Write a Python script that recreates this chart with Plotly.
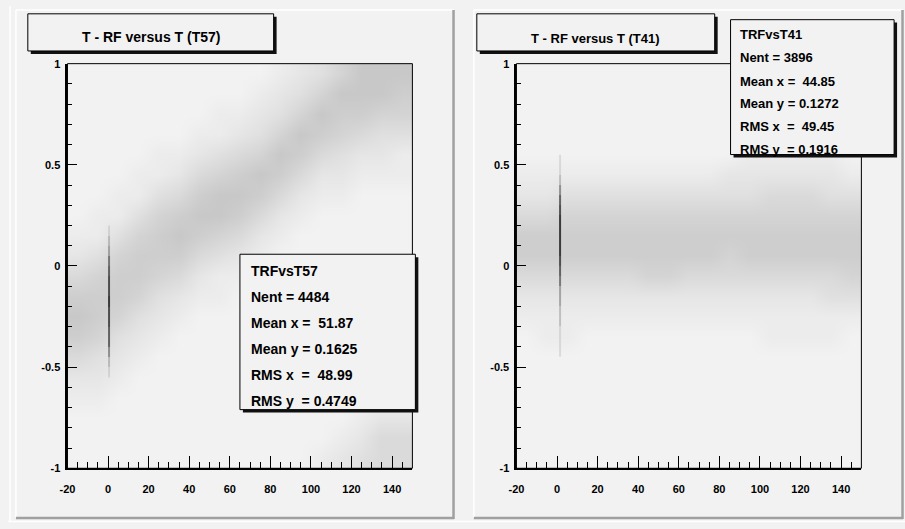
import plotly.graph_objects as go

W, H = 905, 529
BG = "#f2f2f2"

# ---------------- data ----------------
x_bin_centers = [-15, -5, 5, 15, 25, 35, 45, 55, 65, 75, 85, 95, 105, 115, 125, 135, 145]
y_bin_centers = [0.95, 0.85, 0.75, 0.65, 0.55, 0.45, 0.35, 0.25, 0.15, 0.05,
                 -0.05, -0.15, -0.25, -0.35, -0.45, -0.55, -0.65, -0.75, -0.85, -0.95]

# T57: relative point density per x column (top -> bottom in y)
t57_density_by_x = [
    [0, 0, 0, 0, 0, 0, 0, 0, 1, 2, 4, 6, 7, 6, 4, 2, 1, 0, 0, 0],
    [0, 0, 0, 0, 0, 0, 0, 1, 1, 3, 5, 6, 6, 5, 3, 2, 1, 0, 0, 0],
    [0, 0, 0, 0, 0, 0, 1, 1, 3, 5, 6, 6, 5, 3, 2, 1, 0, 0, 0, 0],
    [0, 0, 0, 0, 0, 1, 1, 3, 5, 6, 6, 5, 3, 2, 1, 0, 0, 0, 0, 0],
    [0, 0, 0, 0, 1, 1, 3, 5, 6, 6, 5, 3, 2, 1, 0, 0, 0, 0, 0, 0],
    [0, 0, 0, 0, 1, 2, 4, 6, 7, 6, 4, 2, 1, 0, 0, 0, 0, 0, 0, 0],
    [0, 0, 0, 1, 2, 4, 6, 7, 6, 4, 2, 1, 0, 0, 0, 0, 0, 0, 0, 0],
    [0, 0, 1, 1, 3, 5, 7, 7, 5, 3, 1, 1, 0, 0, 0, 0, 0, 0, 0, 0],
    [0, 0, 1, 2, 4, 6, 7, 6, 4, 2, 1, 0, 0, 0, 0, 0, 0, 0, 0, 0],
    [0, 1, 2, 3, 5, 7, 6, 4, 2, 1, 0, 0, 0, 0, 0, 0, 0, 0, 0, 0],
    [1, 2, 3, 5, 7, 6, 4, 2, 1, 0, 0, 0, 0, 0, 0, 0, 0, 0, 0, 0],
    [2, 3, 5, 7, 6, 4, 2, 1, 0, 0, 0, 0, 0, 0, 0, 0, 0, 0, 0, 0],
    [3, 5, 7, 6, 4, 2, 1, 0, 0, 0, 0, 0, 0, 0, 0, 0, 0, 0, 0, 1],
    [5, 7, 6, 5, 3, 2, 1, 0, 0, 0, 0, 0, 0, 0, 0, 0, 0, 0, 1, 2],
    [7, 7, 6, 4, 2, 1, 0, 0, 0, 0, 0, 0, 0, 0, 0, 0, 0, 1, 2, 3],
    [7, 7, 5, 3, 2, 1, 0, 0, 0, 0, 0, 0, 0, 0, 0, 0, 0, 2, 4, 4],
    [7, 6, 5, 3, 1, 1, 0, 0, 0, 0, 0, 0, 0, 0, 0, 0, 0, 2, 4, 4],
]

# T41: relative point density per x column (top -> bottom in y)
t41_density_by_x = [
    [0, 0, 0, 0, 0, 1, 2, 4, 6, 6, 4, 2, 1, 0, 0, 0, 0, 0, 0, 0],
    [0, 0, 0, 0, 0, 1, 2, 4, 6, 6, 4, 2, 1, 1, 0, 0, 0, 0, 0, 0],
    [0, 0, 0, 0, 0, 1, 3, 5, 6, 6, 4, 2, 1, 1, 0, 0, 0, 0, 0, 0],
    [0, 0, 0, 0, 0, 1, 3, 5, 6, 6, 4, 2, 1, 0, 0, 0, 0, 0, 0, 0],
    [0, 0, 0, 0, 0, 1, 3, 5, 6, 6, 4, 2, 1, 0, 0, 0, 0, 0, 0, 0],
    [0, 0, 0, 0, 0, 1, 3, 5, 6, 6, 4, 2, 1, 0, 0, 0, 0, 0, 0, 0],
    [0, 0, 0, 0, 0, 1, 3, 5, 6, 6, 5, 2, 1, 0, 0, 0, 0, 0, 0, 0],
    [0, 0, 0, 0, 0, 1, 3, 5, 6, 6, 5, 2, 1, 0, 0, 0, 0, 0, 0, 0],
    [0, 0, 0, 0, 0, 1, 3, 5, 6, 6, 4, 2, 1, 0, 0, 0, 0, 0, 0, 0],
    [0, 0, 0, 0, 0, 1, 3, 5, 6, 6, 4, 2, 1, 0, 0, 0, 0, 0, 0, 0],
    [0, 0, 0, 0, 0, 2, 3, 5, 6, 5, 4, 2, 1, 0, 0, 0, 0, 0, 0, 0],
    [0, 0, 0, 0, 1, 2, 3, 5, 6, 6, 4, 2, 1, 0, 0, 0, 0, 0, 0, 0],
    [0, 0, 0, 0, 1, 2, 4, 5, 6, 6, 4, 2, 1, 1, 0, 0, 0, 0, 0, 0],
    [0, 0, 0, 0, 1, 2, 4, 5, 6, 6, 4, 2, 1, 1, 0, 0, 0, 0, 0, 0],
    [0, 0, 0, 0, 1, 2, 4, 5, 6, 6, 4, 2, 1, 1, 0, 0, 0, 0, 0, 0],
    [0, 0, 0, 0, 1, 2, 3, 5, 6, 6, 4, 3, 1, 1, 0, 0, 0, 0, 0, 0],
    [0, 0, 0, 0, 0, 1, 3, 5, 6, 6, 5, 3, 1, 0, 0, 0, 0, 0, 0, 0],
]

# narrow vertical spikes near T = 0 (bin edges in y, top -> bottom)
t57_spike_x_edges = [0.0, 1.0]
t57_spike_y_edges = [0.2, 0.15, 0.1, 0.05, 0.0, -0.05, -0.1, -0.15, -0.2, -0.25,
                     -0.3, -0.35, -0.4, -0.45, -0.5, -0.55]
t57_spike_density = [1, 2, 3, 5, 6, 7, 7, 8, 7, 7, 6, 6, 4, 2, 1]

t41_spike_x_edges = [1.0, 2.0]
t41_spike_y_edges = [0.55, 0.5, 0.45, 0.4, 0.35, 0.3, 0.25, 0.2, 0.15, 0.1, 0.05,
                     0.0, -0.05, -0.1, -0.15, -0.2, -0.25, -0.3, -0.35, -0.4, -0.45]
t41_spike_density = [1, 1, 2, 4, 6, 7, 8, 8, 8, 8, 7, 6, 5, 3, 3, 2, 2, 1, 1, 1]

x_tick_labels = ["-20", "0", "20", "40", "60", "80", "100", "120", "140"]
y_tick_labels = ["-1", "-0.5", "0", "0.5", "1"]

t57_title = "T - RF versus T (T57)"
t41_title = "T - RF versus T (T41)"
t57_stats = ["TRFvsT57", "Nent = 4484", "Mean x =  51.87", "Mean y = 0.1625",
             "RMS x  =  48.99", "RMS y  = 0.4749"]
t41_stats = ["TRFvsT41", "Nent = 3896", "Mean x =  44.85", "Mean y = 0.1272",
             "RMS x  =  49.45", "RMS y  = 0.1916"]


# ---------------- helpers ----------------
def px(x):
    return x / W


def py(y):
    return 1 - y / H


def to_rows(cols):
    rows = [list(r) for r in zip(*cols)]
    return rows[::-1]


band_scale = [[0, BG], [1, "rgb(188,188,188)"]]
spike_scale = [[0, "rgba(50,50,50,0)"], [1, "rgba(50,50,50,0.95)"]]

fig = go.Figure()

fig.add_trace(go.Heatmap(x=x_bin_centers, y=y_bin_centers[::-1], z=to_rows(t57_density_by_x),
                         colorscale=band_scale, zmin=0, zmax=9, zsmooth="best",
                         showscale=False, hoverinfo="skip", xaxis="x", yaxis="y"))
fig.add_trace(go.Heatmap(x=t57_spike_x_edges, y=t57_spike_y_edges[::-1],
                         z=[[v] for v in t57_spike_density[::-1]],
                         colorscale=spike_scale, zmin=0, zmax=8,
                         showscale=False, hoverinfo="skip", xaxis="x", yaxis="y"))
fig.add_trace(go.Heatmap(x=x_bin_centers, y=y_bin_centers[::-1], z=to_rows(t41_density_by_x),
                         colorscale=band_scale, zmin=0, zmax=9, zsmooth="best",
                         showscale=False, hoverinfo="skip", xaxis="x2", yaxis="y2"))
fig.add_trace(go.Heatmap(x=t41_spike_x_edges, y=t41_spike_y_edges[::-1],
                         z=[[v] for v in t41_spike_density[::-1]],
                         colorscale=spike_scale, zmin=0, zmax=8,
                         showscale=False, hoverinfo="skip", xaxis="x2", yaxis="y2"))

tickfont = dict(family="Liberation Sans, Arial, sans-serif", size=11, color="black", weight="bold")

xaxis_common = dict(range=[-20, 150], showgrid=False, zeroline=False, showline=True,
                    linecolor="black", linewidth=2, ticks="inside", ticklen=12,
                    tickwidth=1, tickcolor="black",
                    tickvals=[int(t) for t in x_tick_labels], ticktext=x_tick_labels,
                    minor=dict(dtick=5, tick0=0, ticks="inside", ticklen=6,
                               tickwidth=1, tickcolor="black"),
                    tickfont=tickfont, ticklabelstandoff=10, fixedrange=True)
yaxis_common = dict(range=[-1, 1], showgrid=False, zeroline=False, showline=True,
                    linecolor="black", linewidth=2, ticks="inside", ticklen=10,
                    tickwidth=1, tickcolor="black",
                    tickvals=[float(t) for t in y_tick_labels], ticktext=y_tick_labels,
                    minor=dict(dtick=0.1, tick0=0, ticks="inside", ticklen=5,
                               tickwidth=1, tickcolor="black"),
                    tickfont=tickfont, ticklabelstandoff=3, fixedrange=True)

Lx0, Lx1 = 60, 408
Rx0, Rx1 = 513, 861
Y0, Y1 = 59, 473

fig.update_layout(
    width=W, height=H, margin=dict(l=0, r=0, t=0, b=0), autosize=False,
    paper_bgcolor=BG, plot_bgcolor=BG, showlegend=False,
    xaxis=dict(domain=[px(Lx0), px(Lx1)], anchor="y", **xaxis_common),
    yaxis=dict(domain=[py(Y1), py(Y0)], anchor="x", **yaxis_common),
    xaxis2=dict(domain=[px(Rx0), px(Rx1)], anchor="y2", **xaxis_common),
    yaxis2=dict(domain=[py(Y1), py(Y0)], anchor="x2", **yaxis_common),
)

shapes = []


def line(x0, y0, x1, y1, color, width):
    shapes.append(dict(type="line", xref="paper", yref="paper", x0=px(x0), y0=py(y0),
                       x1=px(x1), y1=py(y1), line=dict(color=color, width=width)))


def rect(x0, y0, x1, y1, fill, lcolor=None, lwidth=0):
    shapes.append(dict(type="rect", xref="paper", yref="paper", x0=px(x0), y0=py(y0),
                       x1=px(x1), y1=py(y1), fillcolor=fill,
                       line=dict(color=lcolor or fill, width=lwidth)))


# canvas / pad bevels
line(2, 0, 2, 527, "white", 1.5)
line(0, 527.5, W, 527.5, "white", 1.5)
for (a, b) in [(8, 450), (470, 903)]:
    line(a, 4, a, 524, "white", 1.5)
    line(a, 4, b, 4, "white", 1.5)
    line(b - 0.5, 4, b - 0.5, 525, "#a0a0a0", 2.5)
    line(a, 524, b, 524, "#a0a0a0", 2.5)

# plot frames (thin top/right)
for xr, yr in [("x domain", "y domain"), ("x2 domain", "y2 domain")]:
    shapes.append(dict(type="rect", xref=xr, yref=yr, x0=0, x1=1, y0=0, y1=1,
                       line=dict(color="black", width=1), layer="above"))


def boxed(x0, y0, x1, y1):
    rect(x0 + 3, y0 + 3, x1 + 3, y1 + 3, "#111111")
    rect(x0, y0, x1, y1, BG, "black", 1)


boxed(20, 8, 268, 46)
boxed(473, 8, 713, 46)
boxed(234, 254, 411, 413)
boxed(729, 14, 894, 152)

fig.update_layout(shapes=shapes)

ann = []
font_b = "Liberation Sans, Arial, sans-serif"
ann.append(dict(text=t57_title, x=px(144), y=py(32), xref="paper", yref="paper",
                showarrow=False, xanchor="center", yanchor="middle",
                font=dict(family=font_b, size=14, color="black", weight="bold")))
ann.append(dict(text=t41_title, x=px(593), y=py(33), xref="paper", yref="paper",
                showarrow=False, xanchor="center", yanchor="middle",
                font=dict(family=font_b, size=13, color="black", weight="bold")))

t57_rows_y = [270.7, 297.7, 324.3, 350.7, 377.3, 404]
t41_rows_y = [29, 53, 77, 100, 123.5, 147]
for txt, yy in zip(t57_stats, t57_rows_y):
    ann.append(dict(text=txt.replace(" ", "\u00a0"), x=px(243), y=py(yy), xref="paper", yref="paper",
                    showarrow=False, xanchor="left", yanchor="middle",
                    font=dict(family=font_b, size=14, color="black", weight="bold")))
for txt, yy in zip(t41_stats, t41_rows_y):
    ann.append(dict(text=txt.replace(" ", "\u00a0"), x=px(737), y=py(yy), xref="paper", yref="paper",
                    showarrow=False, xanchor="left", yanchor="middle",
                    font=dict(family=font_b, size=13, color="black", weight="bold")))
fig.update_layout(annotations=ann)

post = (
    "document.documentElement.style.margin='0';"
    "document.documentElement.style.padding='0';"
    "document.body.style.margin='0';document.body.style.padding='0';"
    "document.documentElement.style.overflow='hidden';document.body.style.overflow='hidden';"
    "var d=document.getElementById('{plot_id}');"
    "d.style.position='fixed';d.style.left='0px';d.style.top='0px';"
)
fig.write_html("out.html", config={"displayModeBar": False}, post_script=post)
